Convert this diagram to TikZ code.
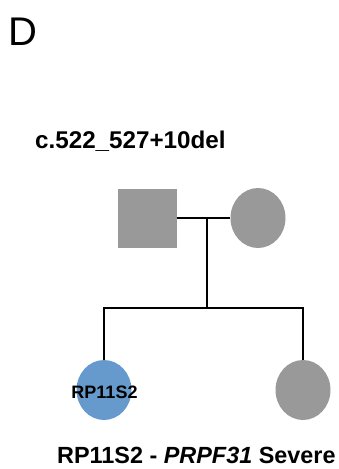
\documentclass[tikz,border=0pt]{standalone}
\usepackage{fontspec}
\setmainfont{Liberation Sans}
\usetikzlibrary{shapes.geometric}
\definecolor{pgray}{RGB}{153,153,153}
\definecolor{pblue}{RGB}{102,153,204}
\begin{document}
\begin{tikzpicture}[x=1pt,y=-1pt,
  male/.style={rectangle, fill=pgray, minimum width=59pt, minimum height=59pt, inner sep=0pt},
  female/.style={ellipse, fill=pgray, minimum width=55pt, minimum height=60pt, inner sep=0pt},
  affected/.style={fill=pblue},
  pline/.style={line width=2.8pt, line join=miter},
  txt/.style={inner sep=0pt, anchor=base west}]
\useasboundingbox (0,0) rectangle (338,469);
\node[txt, font=\fontsize{40}{40}\selectfont] (panel) at (8,45) {D};
\node[txt, font=\bfseries\fontsize{24.2}{24.2}\selectfont] (mut) at (35,148) {c.522\_527+10del};

\node[male] (father) at (147,218) {};
\node[female] (mother) at (258,218) {};
\node[female, affected] (child1) at (104,390) {};
\node[female] (child2) at (303,390) {};
\node[inner sep=0pt, font=\bfseries\fontsize{18}{18}\selectfont] (lab1) at (104.5,392.5) {RP11S2};

\coordinate (mj) at (207,218);
\coordinate (sj) at (207,308);
\coordinate (s1) at (104,308);
\coordinate (s2) at (303,308);

\draw[pline] (father.east) -- (mother.west);
\draw[pline] (mj) -- (sj);
\draw[pline] (child1.north) -- (s1) -- (s2) -- (child2.north);

\node[txt, font=\bfseries\fontsize{23.4}{23.4}\selectfont] (caption) at (57,463) {RP11S2 - \textit{PRPF31} Severe};
\end{tikzpicture}
\end{document}
